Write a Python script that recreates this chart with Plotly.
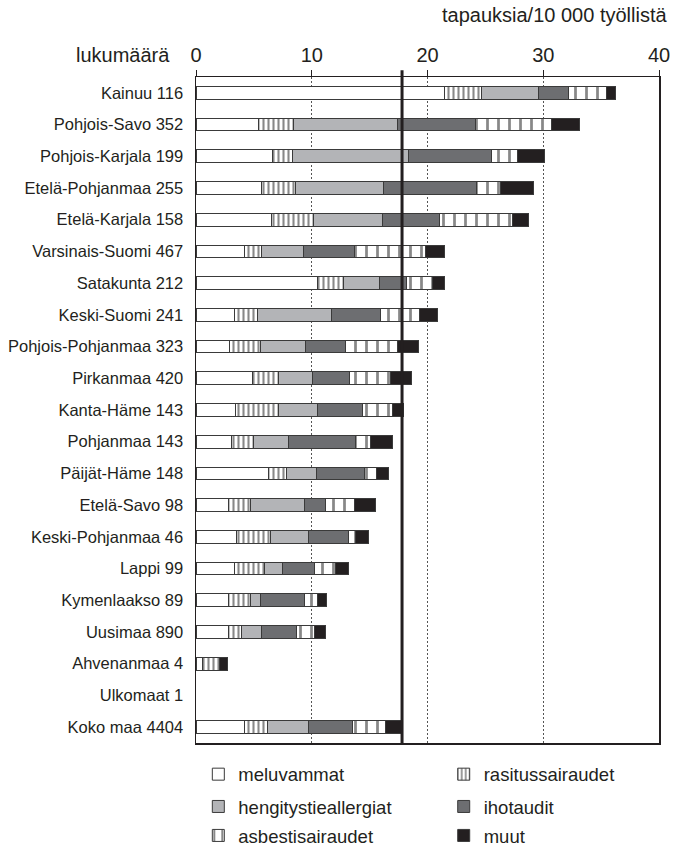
import plotly.graph_objects as go

alueet = ["Kainuu 116", "Pohjois-Savo 352", "Pohjois-Karjala 199", "Etelä-Pohjanmaa 255",
          "Etelä-Karjala 158", "Varsinais-Suomi 467", "Satakunta 212", "Keski-Suomi 241",
          "Pohjois-Pohjanmaa 323", "Pirkanmaa 420", "Kanta-Häme 143", "Pohjanmaa 143",
          "Päijät-Häme 148", "Etelä-Savo 98", "Keski-Pohjanmaa 46", "Lappi 99",
          "Kymenlaakso 89", "Uusimaa 890", "Ahvenanmaa 4", "Ulkomaat 1", "Koko maa 4404"]

meluvammat = [21.5, 5.4, 6.6, 5.7, 6.5, 4.2, 10.5, 3.3, 2.9, 4.85, 3.45, 3.05, 6.3, 2.8, 3.5, 3.3, 2.85, 2.8, 0.6, 0, 4.2]
rasitussairaudet = [3.2, 3.0, 1.7, 2.9, 3.65, 1.45, 2.2, 2.0, 2.65, 2.3, 3.7, 1.95, 1.55, 1.95, 2.95, 2.6, 1.9, 1.15, 1.45, 0, 1.95]
hengitystieallergiat = [4.9, 9.05, 10.1, 7.6, 6.0, 3.6, 3.15, 6.4, 3.95, 2.95, 3.35, 2.95, 2.55, 4.6, 3.25, 1.6, 0.85, 1.75, 0, 0, 3.55]
ihotaudit = [2.6, 6.7, 7.1, 8.0, 4.9, 4.4, 2.3, 4.2, 3.4, 3.2, 3.85, 5.8, 4.2, 1.85, 3.5, 2.7, 3.8, 3.0, 0, 0, 3.85]
asbestisairaudet = [3.3, 6.6, 2.3, 2.1, 6.3, 6.15, 2.3, 3.4, 4.5, 3.5, 2.6, 1.35, 1.0, 2.5, 0.55, 1.85, 1.1, 1.55, 0, 0, 2.85]
muut = [0.7, 2.4, 2.3, 2.9, 1.35, 1.7, 1.0, 1.6, 1.85, 1.85, 0.95, 1.9, 1.0, 1.8, 1.15, 1.15, 0.8, 0.9, 0.7, 0, 1.4]

KESKIARVO = 17.8
x_ticks = [0, 10, 20, 30, 40]

FONT = "Liberation Sans, Arial, sans-serif"

series = [
    ("meluvammat", meluvammat, dict(color="white")),
    ("rasitussairaudet", rasitussairaudet,
     dict(color="white", pattern=dict(shape="|", fgcolor="#111111", bgcolor="white", size=5, solidity=0.42, fillmode="overlay"))),
    ("hengitystieallergiat", hengitystieallergiat, dict(color="#b3b4b7")),
    ("ihotaudit", ihotaudit, dict(color="#6d6e71")),
    ("asbestisairaudet", asbestisairaudet,
     dict(color="white", pattern=dict(shape="|", fgcolor="#111111", bgcolor="white", size=11, solidity=0.25, fillmode="overlay"))),
    ("muut", muut, dict(color="#231f20")),
]

# legend positions (paper coords), two columns x three rows
leg_x = [0.005, 0.535]
leg_y = [-0.0475, -0.096, -0.1395]

fig = go.Figure()
for i, (name, vals, mk) in enumerate(series):
    marker = dict(mk)
    marker["line"] = dict(color="#3a3a3a", width=1)
    legname = "legend" if i == 0 else f"legend{i+1}"
    fig.add_trace(go.Bar(
        y=alueet, x=[v if v else None for v in vals], name=name, orientation="h",
        marker=marker, width=0.4, legend=legname, showlegend=True,
    ))

layout_legends = {}
for i in range(6):
    key = "legend" if i == 0 else f"legend{i+1}"
    layout_legends[key] = dict(
        x=leg_x[i % 2], y=leg_y[i // 2], xanchor="left", yanchor="middle",
        orientation="h", font=dict(family=FONT, size=18.5, color="#231f20"),
        bgcolor="rgba(0,0,0,0)", itemwidth=30,
    )

fig.update_layout(
    barmode="stack",
    width=673, height=848,
    margin=dict(l=196, r=14, t=77, b=105, autoexpand=False),
    paper_bgcolor="white", plot_bgcolor="white",
    font=dict(family=FONT, color="#231f20"),
    bargap=0.6,
    **layout_legends,
)

fig.update_xaxes(
    side="top", range=[0, 40], tickvals=x_ticks, ticktext=[str(t) for t in x_ticks],
    ticks="outside", ticklen=6, tickcolor="#231f20", tickwidth=1,
    tickfont=dict(family=FONT, size=20, color="#231f20"),
    showline=True, linecolor="#231f20", linewidth=1.5, mirror=True,
    showgrid=True, gridcolor="#555555", gridwidth=1, griddash="2px,2px",
    zeroline=False, automargin=False,
)
fig.update_yaxes(
    type="category", categoryorder="array", categoryarray=alueet,
    range=[len(alueet) - 0.5, -0.5],
    showline=True, linecolor="#231f20", linewidth=1.5, mirror=True,
    ticks="", ticklabelstandoff=8,
    tickfont=dict(family=FONT, size=16.5, color="#231f20"),
    showgrid=False, zeroline=False, automargin=False,
)

fig.add_shape(type="line", xref="x", yref="paper", x0=KESKIARVO, x1=KESKIARVO, y0=0, y1=1.01,
              line=dict(color="#231f20", width=3))

fig.add_annotation(text="lukumäärä", xref="paper", yref="paper", x=-0.052, y=1.033,
                   xanchor="right", yanchor="middle", showarrow=False,
                   font=dict(family=FONT, size=20, color="#231f20"))
fig.add_annotation(text="tapauksia/10 000 työllistä", xref="paper", yref="paper", x=1.022, y=1.093,
                   xanchor="right", yanchor="middle", showarrow=False,
                   font=dict(family=FONT, size=20, color="#231f20"))

fig.write_html("out.html", config={"displayModeBar": False, "staticPlot": True},
               post_script="document.body.style.margin='0';document.body.style.overflow='hidden';")
